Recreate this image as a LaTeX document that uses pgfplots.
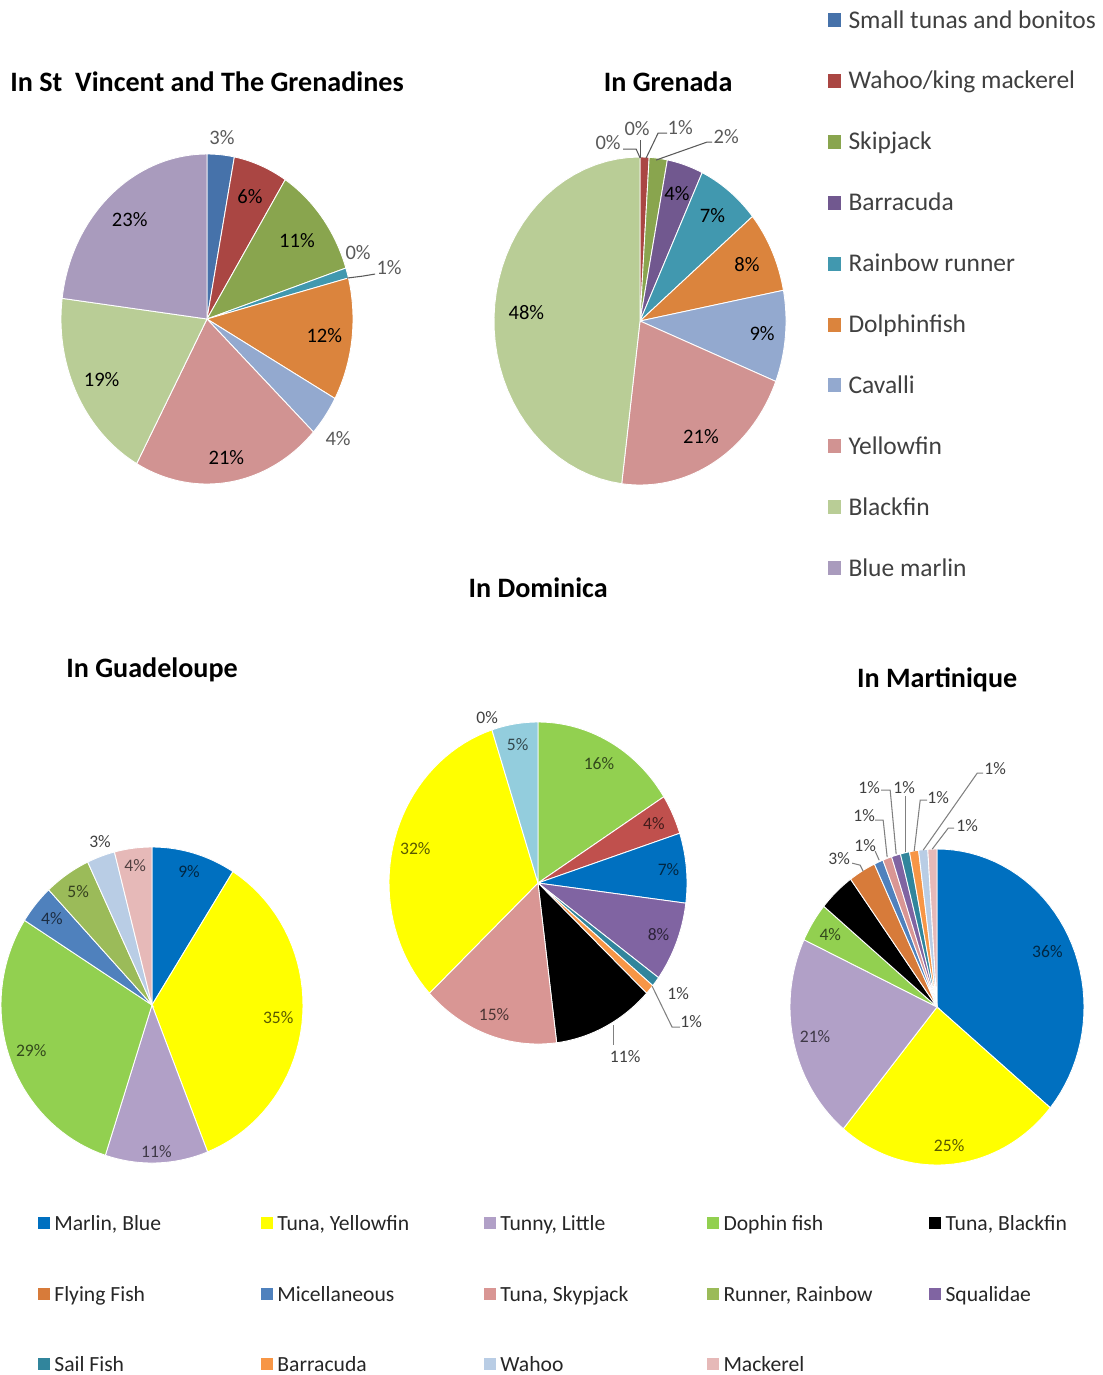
\documentclass[border=0pt]{standalone}
\usepackage{pgfplots}
\usepackage{pgfplotstable}
\pgfplotsset{compat=1.18}
\usepackage{fontspec}
\setmainfont{Carlito}

% top two pies (St Vincent, Grenada)
\definecolor{svgA}{HTML}{4672AA}
\definecolor{svgB}{HTML}{AA4643}
\definecolor{svgC}{HTML}{89A54E}
\definecolor{svgD}{HTML}{71588F}
\definecolor{svgE}{HTML}{4198AF}
\definecolor{svgF}{HTML}{DB843D}
\definecolor{svgG}{HTML}{93A9CF}
\definecolor{svgH}{HTML}{D19392}
\definecolor{svgI}{HTML}{B9CD96}
\definecolor{svgJ}{HTML}{A99BBD}
% bottom three pies
\definecolor{bMarlin}{HTML}{0070C0}
\definecolor{bYellow}{HTML}{FFFF00}
\definecolor{bTunny}{HTML}{B1A0C7}
\definecolor{bDophin}{HTML}{92D050}
\definecolor{bBlack}{HTML}{000000}
\definecolor{bFlying}{HTML}{D77B3A}
\definecolor{bMisc}{HTML}{4F81BD}
\definecolor{bSkyp}{HTML}{D99694}
\definecolor{bRunner}{HTML}{9BBB59}
\definecolor{bSqual}{HTML}{8064A2}
\definecolor{bSail}{HTML}{31859C}
\definecolor{bBarr}{HTML}{F79646}
\definecolor{bWahoo}{HTML}{B9CDE5}
\definecolor{bMack}{HTML}{E6B9B8}
\definecolor{dRed}{HTML}{C0504D}
\definecolor{dCyan}{HTML}{93CDDD}
\definecolor{outlbl}{HTML}{595959}

% v = share in %, col = slice colour, lr = label radius (0 = label drawn by hand)
\pgfplotstableread{
v  col  lr
3  svgA 0
6  svgB 0.80
11 svgC 0.78
0  svgD 0
1  svgE 0
12 svgF 0.81
4  svgG 0
21 svgH 0.85
19 svgI 0.81
23 svgJ 0.80
}\tabSVG

\pgfplotstableread{
v  col  lr
0  svgA 0
1  svgB 0
2  svgC 0
4  svgD 0.82
7  svgE 0.81
8  svgF 0.81
9  svgG 0.84
21 svgH 0.82
48 svgI 0.78
0  svgJ 0
}\tabGRE

\pgfplotstableread{
v  col     lr
9  bMarlin 0.88
35 bYellow 0.84
11 bTunny  0.93
29 bDophin 0.85
4  bMisc   0.86
5  bRunner 0.87
3  bWahoo  0
4  bMack   0.89
}\tabGUA

\pgfplotstableread{
v  col     lr
16 bDophin 0.85
4  dRed    0.86
7  bMarlin 0.88
8  bSqual  0.87
1  bSail   0
1  bBarr   0
11 bBlack  0
15 bSkyp   0.87
32 bYellow 0.85
0  bMisc   0
5  dCyan   0.87
}\tabDOM

\pgfplotstableread{
v  col     lr
36 bMarlin 0.83
25 bYellow 0.88
21 bTunny  0.85
4  bDophin 0.86
4  bBlack  0
3  bFlying 0
1  bMisc   0
1  bSkyp   0
1  bSqual  0
1  bSail   0
1  bBarr   0
1  bWahoo  0
1  bMack   0
}\tabMAR

% slices clockwise from 12 o'clock
\newcommand{\drawpie}[1]{%
  \pgfplotstablegetrowsof{#1}%
  \pgfmathtruncatemacro{\nrows}{\pgfplotsretval-1}%
  \def\acc{0}%
  \pgfplotsforeachungrouped \i in {0,...,\nrows}{%
    \pgfplotstablegetelem{\i}{v}\of{#1}\let\val\pgfplotsretval
    \pgfplotstablegetelem{\i}{col}\of{#1}\let\scol\pgfplotsretval
    \pgfplotstablegetelem{\i}{lr}\of{#1}\let\lrad\pgfplotsretval
    \pgfmathsetmacro{\aS}{90-3.6*\acc}%
    \pgfmathsetmacro{\acc}{\acc+\val}%
    \pgfmathsetmacro{\aE}{90-3.6*\acc}%
    \pgfmathsetmacro{\aM}{(\aS+\aE)/2}%
    \ifdim\val pt>0pt
      \edef\temp{\noexpand\fill[\scol, draw=white, line width=0.5pt] (axis cs:0,0) -- plot[domain=\aE:\aS, samples=40] (axis cs:{cos(\noexpand\x)},{sin(\noexpand\x)}) -- cycle;}%
      \temp
    \fi
    \ifdim\lrad pt>0pt
      \pgfmathsetmacro{\lx}{\lrad*cos(\aM)}%
      \pgfmathsetmacro{\ly}{\lrad*sin(\aM)}%
      \edef\temp{\noexpand\node[font=\noexpand\plf, text=\scol!\lcmix!black, inner sep=0pt] at (axis cs:\lx,\ly) {\val\noexpand\%};}%
      \temp
    \fi
  }%
}

\pgfplotsset{pie/.style={hide axis, anchor=center, clip=false,
  xmin=-1, xmax=1, ymin=-1, ymax=1}}

\newcommand{\ttl}{\fontsize{16}{19}\selectfont\bfseries}
\newcommand{\lgA}{\fontsize{14.5}{17}\selectfont}
\newcommand{\lgB}{\fontsize{12.3}{15}\selectfont}
\newcommand{\topl}{\fontsize{11.7}{14}\selectfont}
\newcommand{\botl}{\fontsize{10}{12}\selectfont}

\begin{document}
\begin{tikzpicture}
\useasboundingbox (0,0) rectangle (22.04,-27.5);

% pie centres: reference pixel times 0.02 cm
% ---- St Vincent
\def\plf{\topl}\def\lcmix{0}
\begin{axis}[pie, at={(4.14cm,-6.38cm)}, x=2.92cm, y=3.30cm]
  \drawpie{\tabSVG}
\end{axis}
% ---- Grenada
\begin{axis}[pie, at={(12.80cm,-6.42cm)}, x=2.92cm, y=3.28cm]
  \drawpie{\tabGRE}
\end{axis}
% ---- Guadeloupe
\def\plf{\botl}\def\lcmix{35}
\begin{axis}[pie, at={(3.04cm,-20.10cm)}, x=3.02cm, y=3.16cm]
  \drawpie{\tabGUA}
\end{axis}
% ---- Dominica
\begin{axis}[pie, at={(10.76cm,-17.66cm)}, x=2.98cm, y=3.22cm]
  \drawpie{\tabDOM}
\end{axis}
% ---- Martinique
\begin{axis}[pie, at={(18.74cm,-20.14cm)}, x=2.94cm, y=3.16cm]
  \drawpie{\tabMAR}
\end{axis}

\begin{scope}[x=0.02cm, y=-0.02cm]
% titles
\node[font=\ttl, anchor=base] at (207,91) {In St\ \ Vincent and The Grenadines};
\node[font=\ttl, anchor=base] at (668,91) {In Grenada};
\node[font=\ttl, anchor=base] at (538,597) {In Dominica};
\node[font=\ttl, anchor=base] at (152,677) {In Guadeloupe};
\node[font=\ttl, anchor=base] at (937,687) {In Martinique};

% hand-placed labels with leader lines
\begin{scope}[every node/.style={font=\topl, text=outlbl, inner sep=0pt}]
  \node at (222,138) {3\%};
  \node at (358,253) {0\%};
  \node at (389,268) {1\%};
  \node at (338,438) {4\%};
  \draw[outlbl, line width=0.6pt] (347,278) -- (363,276) -- (375,274);
  \node at (608,143) {0\%};
  \node at (637,129) {0\%};
  \node at (680,128) {1\%};
  \node at (726,137) {2\%};
  \draw[outlbl, line width=0.6pt] (623,149) -- (636,149) -- (640,158);
  \draw[outlbl, line width=0.6pt] (640,140) -- (640,158);
  \draw[outlbl, line width=0.6pt] (667,133) -- (658,133) -- (646,158);
  \draw[outlbl, line width=0.6pt] (712,142) -- (707,142) -- (656,160);
\end{scope}
\begin{scope}[every node/.style={font=\botl, text=black!75, inner sep=0pt}]
  \node at (100,841) {3\%};
  \node at (487,717) {0\%};
  \node at (678,993) {1\%};
  \node at (691,1021) {1\%};
  \node at (625,1056) {11\%};
  \draw[gray, line width=0.6pt] (652,986) -- (672,1027) -- (680,1027);
  \draw[gray, line width=0.6pt] (613,1025) -- (613,1045);
  \node at (839,858) {3\%};
  \node at (865,845) {1\%};
  \node at (864,815) {1\%};
  \node at (869,787) {1\%};
  \node at (904,787) {1\%};
  \node at (938,797) {1\%};
  \node at (967,825) {1\%};
  \node at (995,768) {1\%};
  \draw[gray, line width=0.6pt] (852,863) -- (860,865) -- (863,871);
  \draw[gray, line width=0.6pt] (875,851) -- (879,860);
  \draw[gray, line width=0.6pt] (875,820) -- (883,820) -- (887,857);
  \draw[gray, line width=0.6pt] (881,790) -- (890,790) -- (896,854);
  \draw[gray, line width=0.6pt] (905,796) -- (905,852);
  \draw[gray, line width=0.6pt] (927,800) -- (920,800) -- (914,851);
  \draw[gray, line width=0.6pt] (954,828) -- (948,828) -- (932,849);
  \draw[gray, line width=0.6pt] (983,773) -- (977,773) -- (923,850);
\end{scope}

% legend, top
\foreach \c/\t [count=\k from 0] in {svgA/Small tunas and bonitos, svgB/Wahoo\slash king mackerel,
  svgC/Skipjack, svgD/Barracuda, svgE/Rainbow runner, svgF/Dolphinfish, svgG/Cavalli,
  svgH/Yellowfin, svgI/Blackfin, svgJ/Blue marlin}{
  \pgfmathsetmacro{\yy}{20+60.9*\k}
  \fill[\c] (828,\yy-7) rectangle (841,\yy+7);
  \node[font=\lgA, text=black!75, anchor=base west, inner sep=0pt] at (848,\yy+8) {\t};
}

% legend, bottom
\foreach \c/\t/\xx/\yy in {bMarlin/{Marlin, Blue}/38/1223, bYellow/{Tuna, Yellowfin}/261/1223,
  bTunny/{Tunny, Little}/484/1223, bDophin/{Dophin fish}/707/1223, bBlack/{Tuna, Blackfin}/929/1223,
  bFlying/{Flying Fish}/38/1294, bMisc/{Micellaneous}/261/1294, bSkyp/{Tuna, Skypjack}/484/1294,
  bRunner/{Runner, Rainbow}/707/1294, bSqual/{Squalidae}/929/1294,
  bSail/{Sail Fish}/38/1364, bBarr/{Barracuda}/261/1364, bWahoo/{Wahoo}/484/1364, bMack/{Mackerel}/707/1364}{
  \fill[\c] (\xx,\yy-6) rectangle (\xx+12,\yy+6);
  \node[font=\lgB, text=black!85, anchor=base west, inner sep=0pt] at (\xx+16,\yy+7) {\t};
}
\end{scope}
\end{tikzpicture}
\end{document}
